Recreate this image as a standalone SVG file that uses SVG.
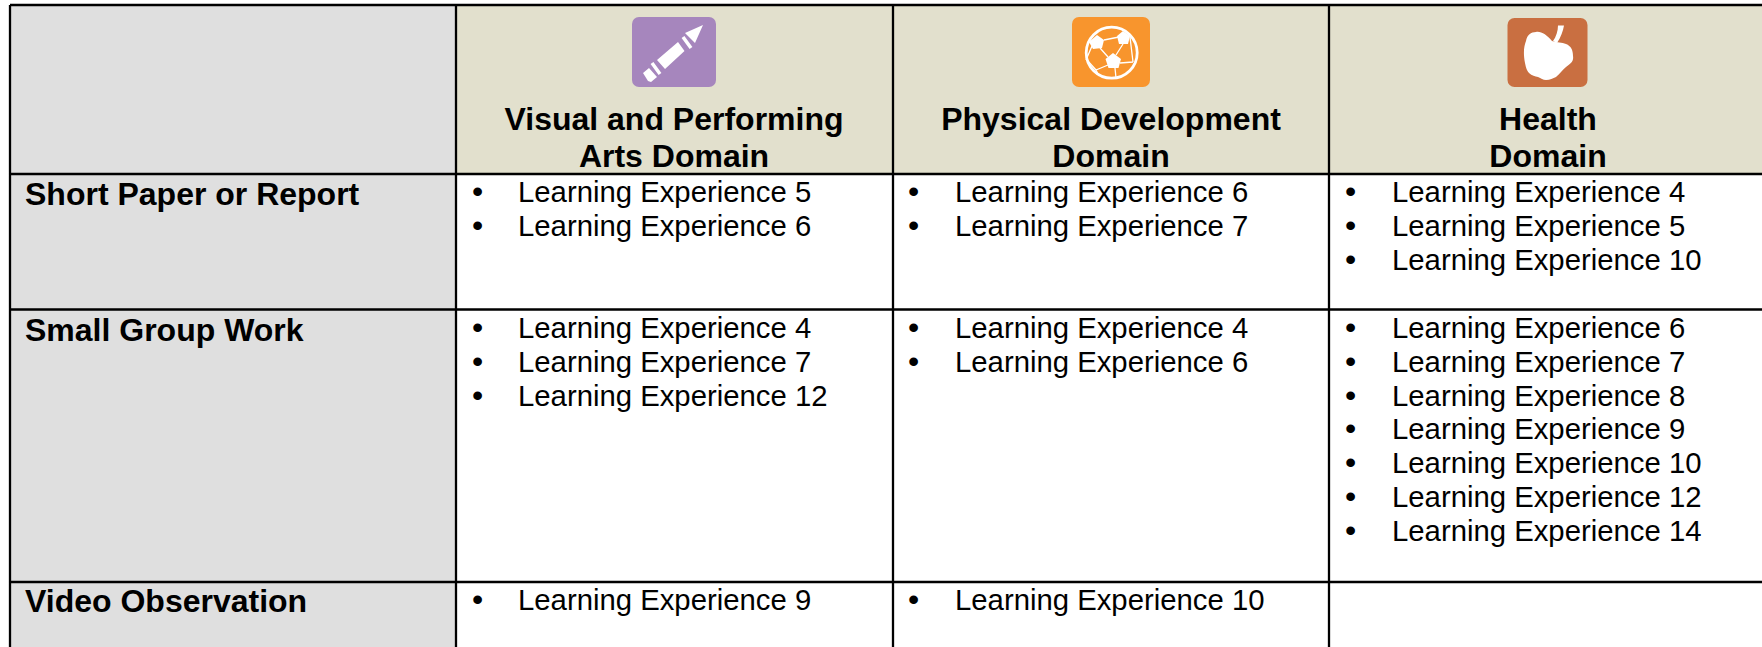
<svg xmlns="http://www.w3.org/2000/svg" width="1762" height="647" viewBox="0 0 1762 647">
<style>
text{font-family:"Liberation Sans",Arial,sans-serif;fill:#000}
.h{font-size:32px;font-weight:700;text-anchor:middle}
.r{font-size:32px;font-weight:700}
.t{font-size:29.300px}
.b{font-size:32px}
</style>
<rect width="1762" height="647" fill="#fff"/>
<rect x="10" y="5" width="446" height="642" fill="#dfdfdf"/>
<rect x="456" y="5" width="1306" height="169" fill="#e2e0cd"/>
<g id="icon-arts">
<rect x="632" y="17" width="84" height="70" rx="7" fill="#a686bd"/>
<path d="M703 25 L695 43 L685 33Z M678 42 L684.500 51 L665 69 L657 60Z M643 73 L649 68 L657 77 L651 82 L648 81 Z" fill="#fff"/>
<path d="M683 37 L691 48 M652 63 L660 74" stroke="#fff" stroke-width="3.500" fill="none"/>
</g>
<g id="icon-physical">
<rect x="1072" y="17" width="78" height="70" rx="7" fill="#f8952d"/>
<circle cx="1111.700" cy="52.700" r="25.500" fill="none" stroke="#fff" stroke-width="2.800"/>
<path d="M1097 35l7 5-2 8-9 1-4-7z M1123 31l7 5-2 8-9 0-2-8z M1113 53l8 6-2.500 9-10 0-3-9z" fill="#fff"/>
<path d="M1104 40l15-3 M1123 44l-7 11 M1100 48l8 9 M1092 46l-6 14 M1130 37l3 25 M1120 63l13-1 M1108 65l-12 5 M1096 70l-9-10 M1096 70l3 6 M1115 68l1 10" stroke="#fff" stroke-width="1.300" fill="none"/>
</g>
<g id="icon-health">
<rect x="1507.500" y="18" width="80" height="69" rx="7" fill="#c96f41"/>
<path d="M1558 25.500 L1564 25.500 C1563 31 1561 37 1557 43 L1553 41 C1556 37 1558 31 1558 25.500Z" fill="#fff"/>
<path d="M1552 41 C1547 35 1541 31 1536 32 C1531 32 1527 35 1526 41 C1524 46 1523 53 1525 63 C1526 68 1527 71 1529 73 C1532 76 1535 76 1538 77 C1541 78 1543 80 1546 80 C1550 80 1553 78 1556 77 C1560 74 1562 70 1566 67 C1570 64 1574 62 1573 56 C1573 50 1571 46 1566 44 C1562 42 1557 43 1552 41Z" fill="#fff"/>
</g>
<g id="grid">
<path d="M10 5H1762 M10 174H1762 M10 309.500H1762 M10 582H1762 M10 5V647 M456 5V647 M893 5V647 M1329 5V647" stroke="#000" stroke-width="2.300" fill="none"/>
</g>
<g id="headers">
<text class="h" x="674" y="130">Visual and Performing</text>
<text class="h" x="674" y="167">Arts Domain</text>
<text class="h" x="1111" y="130">Physical Development</text>
<text class="h" x="1111" y="167">Domain</text>
<text class="h" x="1548" y="130">Health</text>
<text class="h" x="1548" y="167">Domain</text>
</g>
<g id="row-labels">
<text class="r" x="25" y="205">Short Paper or Report</text>
<text class="r" x="25" y="341">Small Group Work</text>
<text class="r" x="25" y="612">Video Observation</text>
</g>
<g id="col-arts">
<text class="b" x="472" y="202">•</text><text class="t" x="518" y="202">Learning Experience 5</text>
<text class="b" x="472" y="236">•</text><text class="t" x="518" y="236">Learning Experience 6</text>
<text class="b" x="472" y="338">•</text><text class="t" x="518" y="338">Learning Experience 4</text>
<text class="b" x="472" y="372">•</text><text class="t" x="518" y="372">Learning Experience 7</text>
<text class="b" x="472" y="406">•</text><text class="t" x="518" y="406">Learning Experience 12</text>
<text class="b" x="472" y="610">•</text><text class="t" x="518" y="610">Learning Experience 9</text>
</g>
<g id="col-physical">
<text class="b" x="908" y="202">•</text><text class="t" x="955" y="202">Learning Experience 6</text>
<text class="b" x="908" y="236">•</text><text class="t" x="955" y="236">Learning Experience 7</text>
<text class="b" x="908" y="338">•</text><text class="t" x="955" y="338">Learning Experience 4</text>
<text class="b" x="908" y="372">•</text><text class="t" x="955" y="372">Learning Experience 6</text>
<text class="b" x="908" y="610">•</text><text class="t" x="955" y="610">Learning Experience 10</text>
</g>
<g id="col-health">
<text class="b" x="1345" y="202">•</text><text class="t" x="1392" y="202">Learning Experience 4</text>
<text class="b" x="1345" y="236">•</text><text class="t" x="1392" y="236">Learning Experience 5</text>
<text class="b" x="1345" y="270">•</text><text class="t" x="1392" y="270">Learning Experience 10</text>
<text class="b" x="1345" y="338">•</text><text class="t" x="1392" y="338">Learning Experience 6</text>
<text class="b" x="1345" y="372">•</text><text class="t" x="1392" y="372">Learning Experience 7</text>
<text class="b" x="1345" y="406">•</text><text class="t" x="1392" y="406">Learning Experience 8</text>
<text class="b" x="1345" y="439">•</text><text class="t" x="1392" y="439">Learning Experience 9</text>
<text class="b" x="1345" y="473">•</text><text class="t" x="1392" y="473">Learning Experience 10</text>
<text class="b" x="1345" y="507">•</text><text class="t" x="1392" y="507">Learning Experience 12</text>
<text class="b" x="1345" y="541">•</text><text class="t" x="1392" y="541">Learning Experience 14</text>
</g>
</svg>
